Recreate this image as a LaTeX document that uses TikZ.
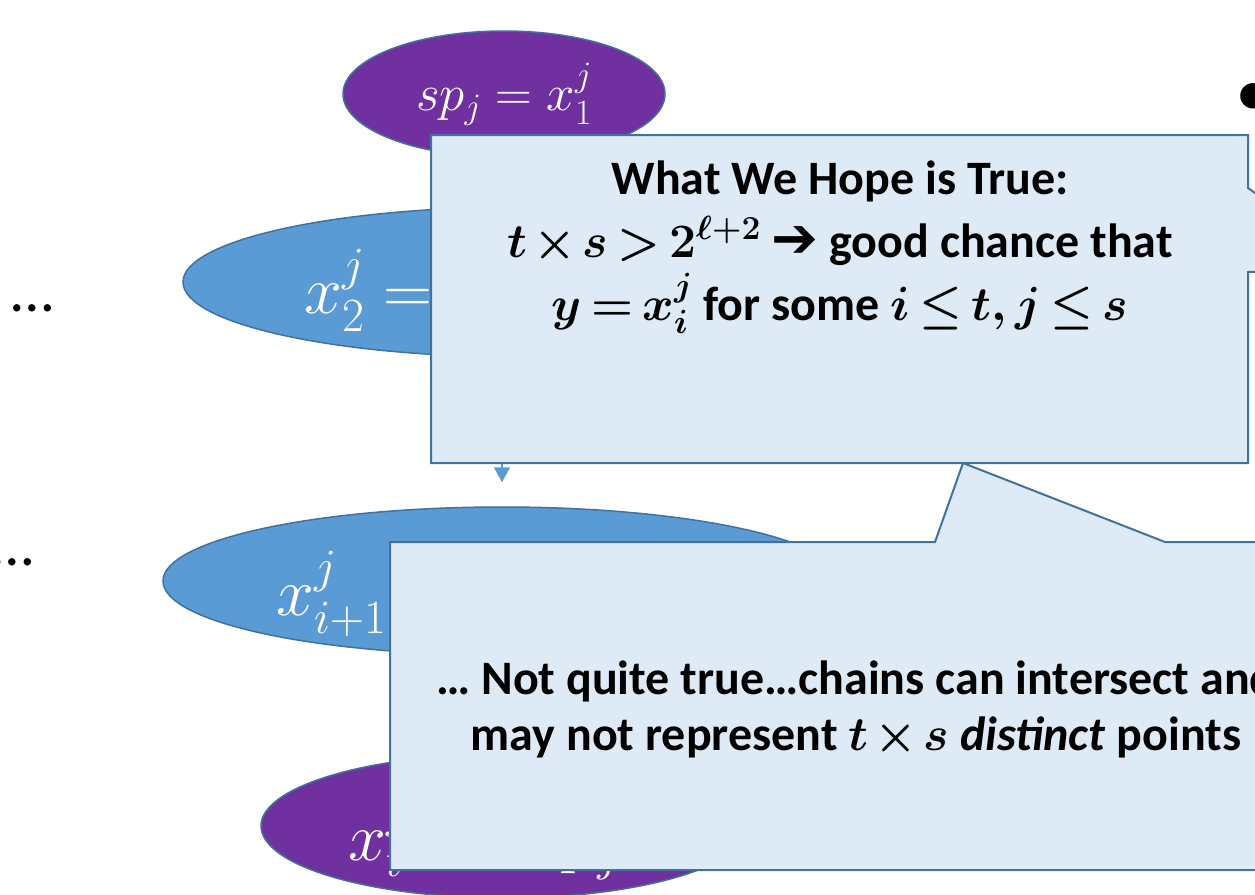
\RequirePackage{fix-cm}
\documentclass[tikz,border=0pt]{standalone}
\usepackage{amsmath,amssymb}
\usepackage[no-math]{fontspec}
\setmainfont{Carlito}
\newfontfamily\arrowfont{DejaVu Sans}
\usetikzlibrary{arrows.meta,shapes,calc,positioning}
\definecolor{outline}{HTML}{41719C}
\definecolor{chainblue}{HTML}{5B9BD5}
\definecolor{endpurple}{HTML}{7030A0}
\definecolor{notefill}{HTML}{DEEBF7}
\newcommand\tightmath{\medmuskip=2mu\relax\thickmuskip=3mu\relax}
\tikzstyle{endpoint}=[ellipse,fill=endpurple,draw=outline,line width=1.5pt,inner sep=0pt,text=white]
\tikzstyle{chainpoint}=[endpoint,fill=chainblue]
\tikzstyle{pointlabel}=[text=white,inner sep=0pt,font=\fontsize{68}{72}\selectfont]
\tikzstyle{callout}=[fill=notefill,draw=outline,line width=2pt,line join=miter]
\tikzstyle{calltext}=[align=center,inner sep=0pt,font=\fontsize{48}{63}\selectfont\bfseries\boldmath,execute at begin node=\tightmath]
\tikzstyle{dotstext}=[inner sep=0pt,font=\fontsize{61}{64}\selectfont]

\begin{document}
\begin{tikzpicture}[x=1pt,y=-1pt]
\useasboundingbox (0,0) rectangle (1255,894);
\clip (0,0) rectangle (1255,894);
% the chain
\node[endpoint,minimum width=322pt,minimum height=126pt,font=\fontsize{51}{54}\selectfont] (sp) at (504,94) {$sp_j = x_1^j$};
\node[chainpoint,minimum width=676pt,minimum height=150pt] (xtwo) at (521,282) {};
\node[chainpoint,minimum width=678pt,minimum height=148pt] (xnext) at (502,581) {};
\node[endpoint,minimum width=488pt,minimum height=144pt] (ep) at (505,826) {};
\node[pointlabel,anchor=base west] (xtwolabel) at (304,313) {$x_2^j =$};
\node[pointlabel,anchor=base west] (xnextlabel) at (276,615) {$x_{i+1}^j$};
\node[pointlabel,anchor=base west] (eplabel) at (348,860) {$x_t^j \;=\; ep_j$};
\draw[chainblue,line width=1.5pt,-{Triangle[width=16pt,length=15pt]}] (xnext.north |- xtwo.south) -- ([yshift=24pt]xnext.north);
\node[dotstext,anchor=base] (dotsa) at (33,311) {…};
\node[dotstext,anchor=base] (dotsb) at (13,565) {…};
\node[font=\fontsize{72}{72}\selectfont,inner sep=0pt] (bullet) at (1253,100) {•};
% callouts
\draw[callout] (431,135) -- (1248,135) -- (1248,188) -- (1365,271) -- (1248,272) -- (1248,463) -- (431,463) -- cycle;
\draw[callout] (390,542) -- (935,542) -- (963,463) -- (1165,542) -- (1330,542) -- (1330,870) -- (390,870) -- cycle;
\node[calltext,anchor=base] (hope) at (840,320) {What We Hope is True:\\
  $t\times s>2^{\ell+2}$ {\arrowfont\fontsize{56}{63}\selectfont ➔} good chance that\\
  $y=x_i^j$ for some $i\le t, j\le s$};
\node[calltext,anchor=base,font=\fontsize{48}{56}\selectfont\bfseries\boldmath] (caveat) at (856,750) {… Not quite true…chains can intersect and\\
  may not represent $t\times s$ \textit{distinct} points};
\end{tikzpicture}
\end{document}
